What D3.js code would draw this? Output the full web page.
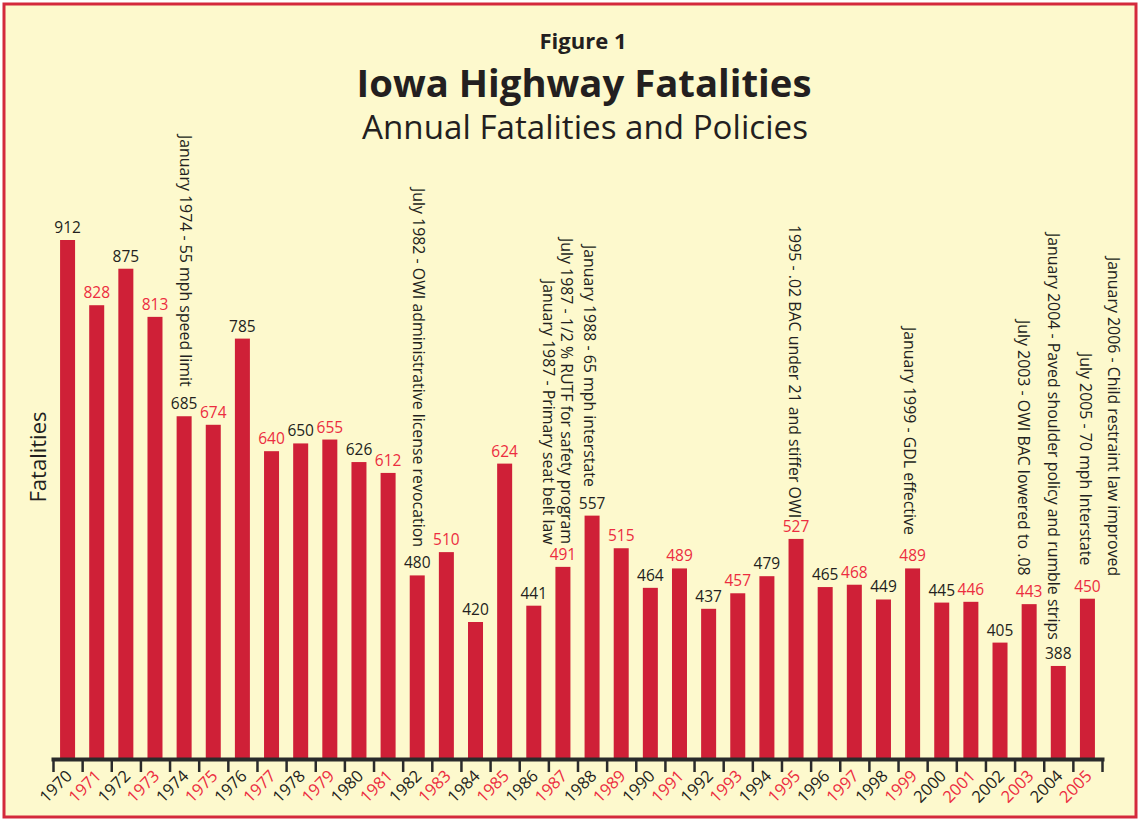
<!DOCTYPE html>
<html><head><meta charset="utf-8">
<script src="https://cdn.jsdelivr.net/npm/d3@7"></script>
<style>body{margin:0;background:#fff}</style>
</head><body><svg id="c" width="1139" height="819"></svg>
<script>
const years = [1970,1971,1972,1973,1974,1975,1976,1977,1978,1979,1980,1981,1982,1983,1984,1985,1986,1987,1988,1989,1990,1991,1992,1993,1994,1995,1996,1997,1998,1999,2000,2001,2002,2003,2004,2005];
const fatalities = [912,828,875,813,685,674,785,640,650,655,626,612,480,510,420,624,441,491,557,515,464,489,437,457,479,527,465,468,449,489,445,446,405,443,388,450];
const annotationYears = [1974,1982,1988,1987,1987,1995,1999,2005,2005,2004,2003];
const annotationTexts = [
  "January 1974 - 55 mph speed limit",
  "July 1982 - OWI administrative license revocation",
  "January 1988 - 65 mph interstate",
  "July 1987 - 1/2 % RUTF for safety program",
  "January 1987 - Primary seat belt law",
  "1995 - .02 BAC under 21 and stiffer OWI",
  "January 1999 - GDL effective",
  "January 2006 - Child restraint law improved",
  "July 2005 - 70 mph Interstate",
  "January 2004 - Paved shoulder policy and rumble strips",
  "July 2003 -  OWI BAC lowered to .08"
];
const figureLabel = "Figure 1";
const mainTitle = "Iowa Highway Fatalities";
const subTitle = "Annual Fatalities and Policies";
const yAxisLabel = "Fatalities";

// layout (not data)
const annotationDx = [1,1,-2,4,-14,-1,-3,26,-2,-5,-6];
const annotationTop = [135,188,245,238,280,225,327,257,353,233,320];

const FONT = "'Open Sans','Noto Sans',sans-serif";
const DARK = "#231F20", RED = "#EC2D40", BAR = "#CF2037";
const svg = d3.select("#c");

svg.append("rect").attr("x",4).attr("y",4).attr("width",1132).attr("height",813)
  .attr("fill","#FDF9CD").attr("stroke","#D42A3C").attr("stroke-width",3);

const x0 = 53, x1 = 1102;
const x = d3.scaleBand().domain(years).range([x0,x1]).paddingInner(0.485).paddingOuter(0.2425);
// the original graphic's value axis is not strictly linear at the low end; piecewise scale mirrors it
const y = d3.scaleLinear().domain([321, 420, 912]).range([758, 622, 240]);
const yBase = y.domain()[0];

function fit(sel, target, base){
  sel.attr("font-size", base);
  const w = sel.node().getComputedTextLength();
  sel.attr("font-size", base*target/w);
}

// Titles
fit(svg.append("text").attr("x",583).attr("y",49).attr("text-anchor","middle")
  .attr("font-family",FONT).attr("font-weight","bold").attr("fill",DARK).text(figureLabel), 87, 19);
fit(svg.append("text").attr("x",584).attr("y",97).attr("text-anchor","middle")
  .attr("font-family",FONT).attr("font-weight","bold").attr("fill",DARK).text(mainTitle), 455, 40);
fit(svg.append("text").attr("x",585).attr("y",139).attr("text-anchor","middle")
  .attr("font-family",FONT).attr("fill",DARK).text(subTitle), 446, 30);

// Y label
svg.append("text").attr("transform","translate(38,457) rotate(-90)")
  .attr("text-anchor","middle").attr("dy","0.35em")
  .attr("font-family",FONT).attr("font-size",22).attr("fill",DARK).text(yAxisLabel);

// Bars
svg.append("g").selectAll("rect").data(years).join("rect")
  .attr("x", d=>x(d)).attr("width", x.bandwidth())
  .attr("y", (d,i)=>y(fatalities[i])).attr("height", (d,i)=>y(yBase)-y(fatalities[i]))
  .attr("fill", BAR);

// Value labels
svg.append("g").selectAll("text").data(years).join("text")
  .attr("x", d=>x(d)+x.bandwidth()/2).attr("y",(d,i)=>y(fatalities[i])-7)
  .attr("text-anchor","middle").attr("font-family",FONT).attr("font-size",15.5)
  .attr("fill", d=>d%2 ? RED : DARK).text((d,i)=>fatalities[i]);

// Axis
const tickScale = d3.scaleLinear().domain([0, years.length]).range([x0,x1]);
const axis = svg.append("g").attr("transform","translate(0,759)")
  .call(d3.axisBottom(tickScale).tickValues(d3.range(years.length+1)).tickSize(13).tickSizeOuter(0).tickFormat(""));
axis.select(".domain").attr("stroke","#2A2B2B").attr("stroke-width",4).attr("stroke-linecap","square");
axis.selectAll(".tick line").attr("stroke","#2A2B2B").attr("stroke-width",2.5);

// Year labels
svg.append("g").selectAll("text").data(years).join("text")
  .attr("transform", d=>`translate(${x(d)+x.bandwidth()/2+5.5},777) rotate(-45)`)
  .attr("text-anchor","end").attr("font-family",FONT).attr("font-size",16.5)
  .attr("fill", d=>d%2 ? RED : DARK).text(d=>d);

// Annotations
const ann = svg.append("g").selectAll("text").data(annotationTexts).join("text")
  .attr("transform",(t,i)=>`translate(${x(annotationYears[i])+x.bandwidth()/2+annotationDx[i]},${annotationTop[i]}) rotate(90)`)
  .attr("dy","0.35em").attr("font-family",FONT).attr("fill",DARK).attr("font-size",16)
  .text(t=>t);
const w0 = ann.nodes()[0].getComputedTextLength();
ann.attr("font-size", 16*252/w0);
</script></body></html>
